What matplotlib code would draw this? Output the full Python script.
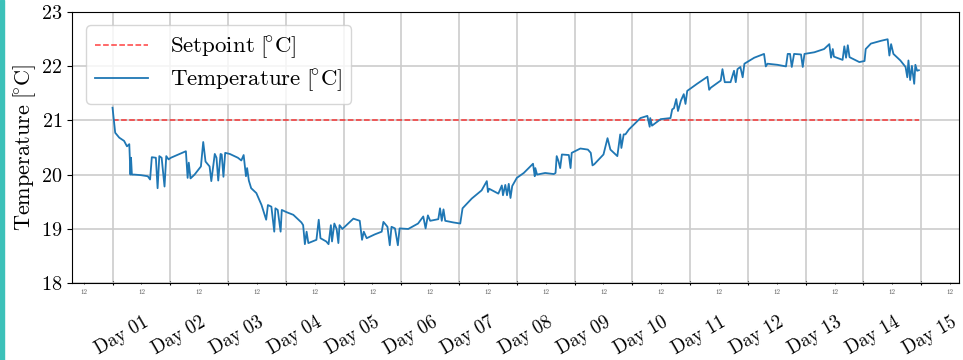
import numpy as np
import pandas as pd
import matplotlib
matplotlib.use('Agg')
import matplotlib.pyplot as plt
import matplotlib.dates as mdates
from matplotlib.patches import Rectangle
from matplotlib.transforms import ScaledTranslation

plt.rcParams['font.family'] = 'serif'
plt.rcParams['font.serif'] = ['cmr10']
plt.rcParams['mathtext.fontset'] = 'cm'
plt.rcParams['axes.formatter.use_mathtext'] = True

# elapsed time since start of Day 01 (days) and measured temperature
elapsed_days = [
    0.00, 0.046, 0.116, 0.20, 0.25, 0.29, 0.31, 0.32, 0.335, 0.38, 0.49, 0.61, 0.65, 0.68, 0.75,
    0.78, 0.81, 0.85, 0.90, 0.93, 0.97, 1.01, 1.27, 1.30, 1.32, 1.35, 1.42, 1.53, 1.57, 1.61,
    1.68, 1.71, 1.77, 1.80, 1.83, 1.87, 1.89, 1.92, 1.95, 2.03, 2.17, 2.23, 2.27, 2.31, 2.33,
    2.36, 2.40, 2.49, 2.58, 2.66, 2.69, 2.75, 2.80, 2.82, 2.86, 2.91, 2.93, 3.01, 3.13, 3.27,
    3.30, 3.33, 3.36, 3.39, 3.53, 3.57, 3.60, 3.70, 3.74, 3.78, 3.80, 3.84, 3.88, 3.91, 3.93,
    3.98, 4.02, 4.17, 4.28, 4.32, 4.35, 4.40, 4.54, 4.66, 4.69, 4.76, 4.80, 4.83, 4.89, 4.94,
    4.97, 5.12, 5.29, 5.38, 5.42, 5.46, 5.50, 5.64, 5.67, 5.70, 5.73, 5.76, 5.90, 6.02, 6.06,
    6.22, 6.39, 6.48, 6.50, 6.52, 6.68, 6.74, 6.76, 6.80, 6.83, 6.86, 6.89, 6.92, 7.00, 7.12,
    7.28, 7.31, 7.32, 7.35, 7.49, 7.64, 7.67, 7.69, 7.72, 7.75, 7.78, 7.90, 7.93, 7.95, 8.10,
    8.23, 8.28, 8.31, 8.34, 8.50, 8.57, 8.62, 8.74, 8.79, 8.81, 8.85, 8.88, 8.94, 9.14, 9.26,
    9.30, 9.31, 9.34, 9.49, 9.66, 9.69, 9.72, 9.76, 9.79, 9.84, 9.89, 9.92, 9.95, 10.12, 10.30,
    10.33, 10.36, 10.53, 10.56, 10.60, 10.70, 10.76, 10.79, 10.82, 10.87, 10.91, 10.94, 11.11, 11.28, 11.31,
    11.34, 11.51, 11.66, 11.69, 11.73, 11.76, 11.80, 11.92, 11.95, 11.98, 12.15, 12.32, 12.41, 12.44, 12.47,
    12.49, 12.64, 12.67, 12.70, 12.73, 12.76, 12.93, 13.02, 13.04, 13.13, 13.30, 13.42, 13.45, 13.48, 13.52,
    13.64, 13.73, 13.76, 13.78, 13.81, 13.84, 13.88, 13.90, 13.93, 13.96,
]
temperature = [
    21.23, 20.77, 20.68, 20.62, 20.52, 20.56, 20.00, 20.31, 20.00, 20.00, 19.99, 19.97, 19.91, 20.32, 20.31,
    19.75, 20.34, 20.31, 19.78, 20.34, 20.28, 20.31, 20.43, 19.94, 20.22, 19.93, 20.00, 20.15, 20.60, 20.24,
    20.15, 19.88, 20.38, 20.31, 19.89, 20.38, 20.37, 19.96, 20.40, 20.38, 20.31, 20.26, 20.36, 19.97, 20.12,
    19.89, 19.75, 19.66, 19.44, 19.17, 19.44, 19.41, 18.95, 19.38, 19.35, 18.95, 19.35, 19.31, 19.26, 19.12,
    19.07, 18.72, 18.95, 18.74, 18.80, 19.17, 18.83, 18.77, 18.72, 19.07, 18.77, 19.10, 19.00, 18.74, 19.07,
    19.00, 19.04, 19.19, 19.15, 18.80, 18.95, 18.83, 18.90, 18.95, 19.13, 19.04, 18.70, 19.04, 19.01, 18.70,
    19.01, 19.00, 19.10, 19.23, 19.01, 19.25, 19.15, 19.18, 19.38, 19.15, 19.36, 19.15, 19.12, 19.10, 19.38,
    19.56, 19.71, 19.88, 19.68, 19.74, 19.65, 19.80, 19.62, 19.81, 19.62, 19.83, 19.57, 19.79, 19.94, 20.03,
    20.20, 19.97, 20.12, 20.00, 20.03, 20.01, 20.03, 20.34, 20.25, 20.12, 20.37, 20.36, 20.12, 20.40, 20.48,
    20.46, 20.40, 20.17, 20.19, 20.37, 20.67, 20.46, 20.34, 20.74, 20.49, 20.74, 20.74, 20.83, 21.04, 21.08,
    20.88, 21.04, 20.90, 21.02, 21.04, 21.20, 21.22, 21.39, 21.17, 21.36, 21.48, 21.30, 21.54, 21.67, 21.80,
    21.56, 21.60, 21.73, 21.94, 21.70, 21.70, 21.91, 21.70, 21.94, 21.98, 21.79, 22.04, 22.15, 22.22, 21.99,
    22.04, 22.02, 21.99, 22.22, 22.22, 21.98, 22.22, 22.21, 21.98, 22.22, 22.25, 22.31, 22.40, 22.15, 22.31,
    22.17, 22.11, 22.36, 22.15, 22.38, 22.16, 22.07, 22.09, 22.31, 22.41, 22.46, 22.49, 22.19, 22.40, 22.22,
    22.10, 21.98, 21.79, 22.10, 21.74, 22.00, 21.67, 22.02, 21.91, 21.92,
]
setpoint_value = 21.0

start = pd.Timestamp('2023-03-01')
df = pd.DataFrame({
    'time': start + pd.to_timedelta(elapsed_days, unit='D'),
    'temperature': temperature,
})
df['setpoint'] = setpoint_value

deg_c = r'[\!{}^{\circ}C]'

fig = plt.figure(figsize=(9.63, 3.6), dpi=100)
ax = fig.add_axes([0.075, 0.213, 0.921, 0.755])

# teal strip on the left edge of the page
fig.patches.append(Rectangle((0, 0), 0.0045, 1, transform=fig.transFigure,
                             color='#3cc1b9', zorder=0))

ax.plot(df['time'], df['setpoint'], color='red', linestyle='--', alpha=0.75,
        linewidth=1.1, label=r'$\mathrm{Setpoint\ ' + deg_c + '}$')
ax.plot(df['time'], df['temperature'], color='tab:blue', linewidth=1.3,
        label=r'$\mathrm{Temperature\ ' + deg_c + '}$')

ax.set_ylim(18, 23)
ax.set_yticks([18, 19, 20, 21, 22, 23])
ax.set_ylabel(r'$\mathrm{Temperature\ ' + deg_c + '}$', fontsize=16, labelpad=2)

ax.xaxis.set_major_locator(mdates.DayLocator())
ax.xaxis.set_major_formatter(mdates.DateFormatter('Day %d'))
ax.xaxis.set_minor_locator(mdates.HourLocator(byhour=12))
ax.xaxis.set_minor_formatter(mdates.DateFormatter('%H'))

ax.tick_params(axis='y', labelsize=14.5)
ax.tick_params(axis='x', which='major', labelsize=13.5, pad=20, length=2.5,
               direction='inout')
ax.tick_params(axis='x', which='minor', labelsize=5, labelcolor='#555555',
               length=2, direction='inout')
shift = ScaledTranslation(9 / 100, 0, fig.dpi_scale_trans)
for lab in ax.get_xticklabels(which='major'):
    lab.set_rotation(30)
    lab.set_ha('center')
    lab.set_transform(lab.get_transform() + shift)

ax.grid(True, which='major', color='#cccccc', linewidth=1.2)
ax.set_axisbelow(True)

ax.legend(loc='upper left', fontsize=16.5, handlelength=2.3, handletextpad=0.95,
          labelspacing=0.25, borderaxespad=0.6)

plt.savefig('out.png', dpi=100)
